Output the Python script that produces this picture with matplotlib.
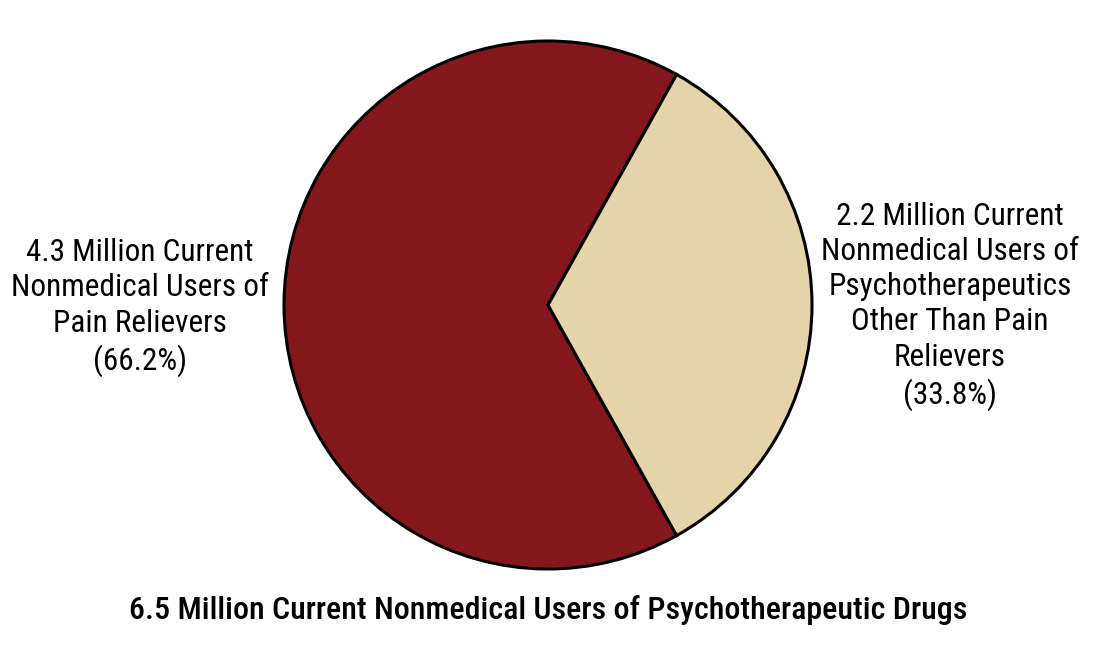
import matplotlib
matplotlib.use("Agg")
import matplotlib.pyplot as plt

# data
labels = ["4.3 Million Current\nNonmedical Users of\nPain Relievers\n(66.2%)",
          "2.2 Million Current\nNonmedical Users of\nPsychotherapeutics\n"
          "Other Than Pain\nRelievers\n(33.8%)"]
shares = [66.2, 33.8]
colors = ["#84171C", "#E5D4A9"]
total_label = "6.5 Million Current Nonmedical Users of Psychotherapeutic Drugs"

plt.rcParams['font.family'] = ['Roboto Condensed', 'Archivo Narrow',
                               'DejaVu Sans']

fig = plt.figure(figsize=(11.11, 6.63), dpi=100)
ax = fig.add_axes([0, 0, 1, 1])

# small slice centred on the right-hand side
start = shares[1] * 3.6 / 2
ax.pie(shares, colors=colors, startangle=start, counterclock=True,
       radius=1.0, center=(0, 0),
       wedgeprops=dict(edgecolor="black", linewidth=2.2))

# pie centre and radius in pixels
cx, cy, r = 548, 305, 264
ax.set_xlim(-cx / r, (1111 - cx) / r)
ax.set_ylim(-(663 - cy) / r, cy / r)
ax.axis("off")

ax.text(-1.545, -0.01, labels[0], ha="center", va="center", fontsize=22.5,
        linespacing=1.27)
ax.text(1.523, -0.005, labels[1], ha="center", va="center", fontsize=22.5,
        linespacing=1.27)
ax.text(0, -1.155, total_label, ha="center", va="center", fontsize=23,
        fontweight=500)

fig.savefig("out.png", dpi=100)
